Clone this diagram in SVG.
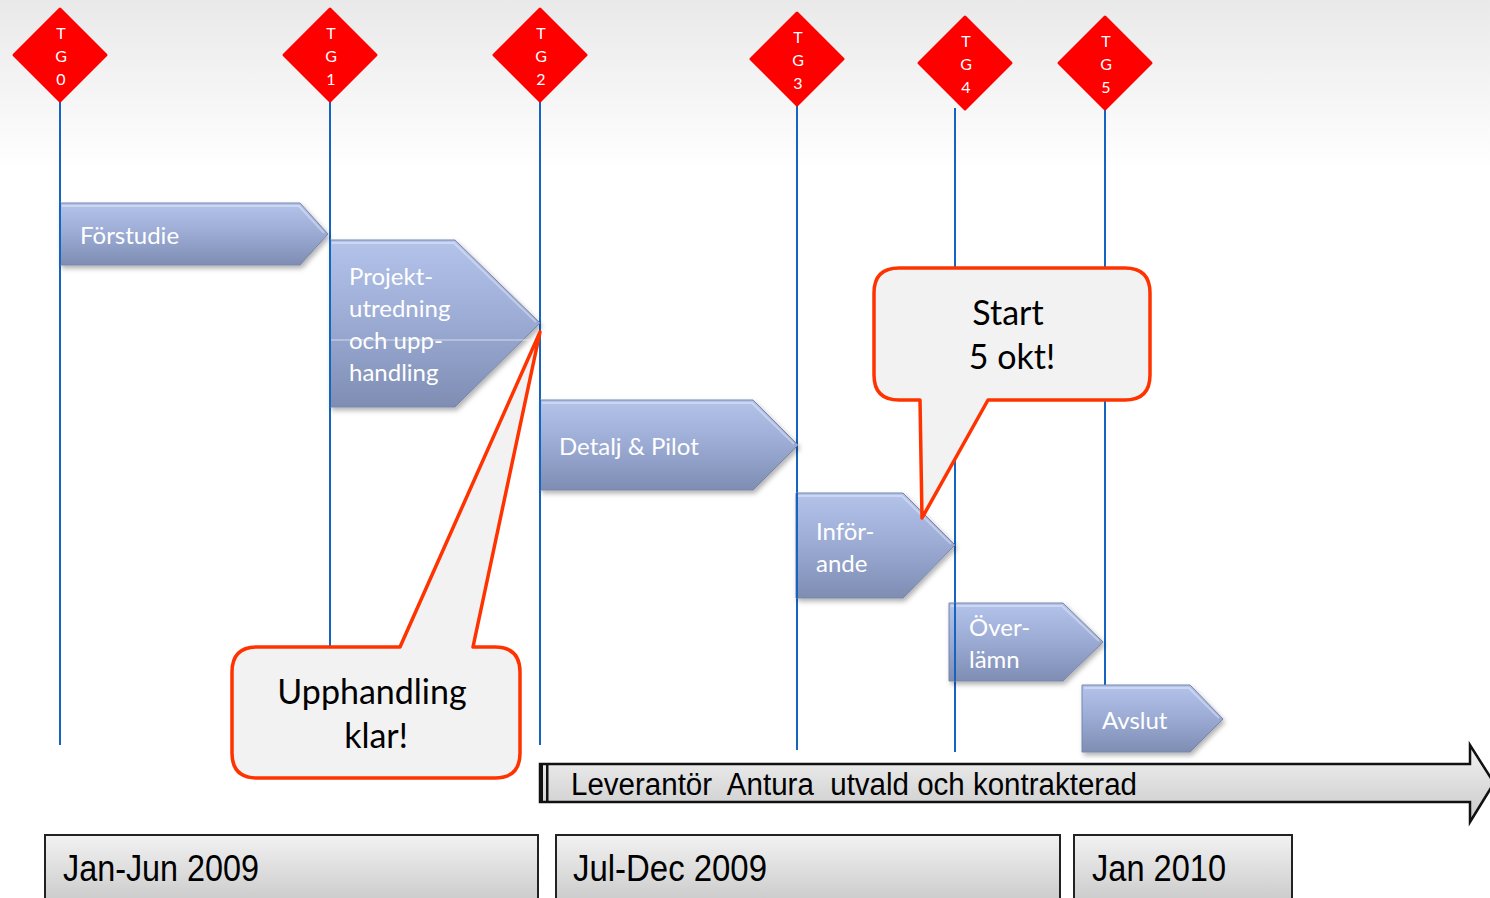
<svg xmlns="http://www.w3.org/2000/svg" width="1490" height="898" viewBox="0 0 1490 898">
<defs>
<linearGradient id="bg" x1="0" y1="0" x2="0" y2="1">
<stop offset="0" stop-color="#e9e9e9"/>
<stop offset="1" stop-color="#ffffff"/>
</linearGradient>
<linearGradient id="arr" x1="0" y1="0" x2="0" y2="1">
<stop offset="0" stop-color="#b3c3ea"/>
<stop offset="0.45" stop-color="#9dadd6"/>
<stop offset="1" stop-color="#7f8db3"/>
</linearGradient>
<linearGradient id="gray" x1="0" y1="0" x2="0" y2="1">
<stop offset="0" stop-color="#f2f2f2"/>
<stop offset="1" stop-color="#c9c9c9"/>
</linearGradient>
<filter id="sh" x="-10%" y="-10%" width="130%" height="130%">
<feDropShadow dx="2" dy="3" stdDeviation="2.5" flood-color="#000" flood-opacity="0.3"/>
</filter>
</defs>
<style>
.dia{fill:#ff0000;stroke:#ff0000;stroke-width:3;stroke-linejoin:round}
.dt{font-family:Lato,"Open Sans",sans-serif;font-size:16px;fill:#ffffff;text-anchor:middle}
.vl{stroke:#1565c0;stroke-width:2}
.arrow{fill:url(#arr);stroke:#7886ad;stroke-width:1;filter:url(#sh)}
.hl{fill:none;stroke:#ffffff;stroke-opacity:0.35;stroke-width:2}
.at{font-family:Lato,"Open Sans",sans-serif;font-size:24px;fill:#ffffff}
.co{fill:#f2f2f2;stroke:#ff3300;stroke-width:3.5;stroke-linejoin:round}
.ct{font-family:Lato,"Open Sans",sans-serif;font-size:34px;fill:#000000;text-anchor:middle}
.box{fill:url(#gray);stroke:#222222;stroke-width:2}
.bt{font-family:"Liberation Sans",Arial,sans-serif;fill:#000000;white-space:pre}
</style>
<rect x="0" y="0" width="1490" height="898" fill="#ffffff"/>
<rect x="0" y="0" width="1490" height="170" fill="url(#bg)"/>

<g id="connectors">
<line class="vl" x1="60" y1="100" x2="60" y2="745"/>
<line class="vl" x1="330" y1="100" x2="330" y2="647"/>
<line class="vl" x1="540" y1="100" x2="540" y2="745"/>
<line class="vl" x1="797" y1="104" x2="797" y2="750"/>
<line class="vl" x1="955" y1="108" x2="955" y2="752"/>
<line class="vl" x1="1105" y1="108" x2="1105" y2="686"/>
</g>

<g id="tg0"><polygon class="dia" points="60,9 106,55 60,101 14,55"/><text class="dt" x="61" y="39">T</text><text class="dt" x="61" y="62">G</text><text class="dt" x="61" y="85">0</text></g>
<g id="tg1"><polygon class="dia" points="330,9 376,55 330,101 284,55"/><text class="dt" x="331" y="39">T</text><text class="dt" x="331" y="62">G</text><text class="dt" x="331" y="85">1</text></g>
<g id="tg2"><polygon class="dia" points="540,9 586,55 540,101 494,55"/><text class="dt" x="541" y="39">T</text><text class="dt" x="541" y="62">G</text><text class="dt" x="541" y="85">2</text></g>
<g id="tg3"><polygon class="dia" points="797,13 843,59 797,105 751,59"/><text class="dt" x="798" y="43">T</text><text class="dt" x="798" y="66">G</text><text class="dt" x="798" y="89">3</text></g>
<g id="tg4"><polygon class="dia" points="965,17 1011,63 965,109 919,63"/><text class="dt" x="966" y="47">T</text><text class="dt" x="966" y="70">G</text><text class="dt" x="966" y="93">4</text></g>
<g id="tg5"><polygon class="dia" points="1105,17 1151,63 1105,109 1059,63"/><text class="dt" x="1106" y="47">T</text><text class="dt" x="1106" y="70">G</text><text class="dt" x="1106" y="93">5</text></g>

<g id="forstudie"><path class="arrow" d="M60,203 H300 L328,234 L300,265 H60 Z"/><path class="hl" d="M62,206 H299 L324,233"/><text class="at" x="80" y="244">Förstudie</text></g>
<g id="projekt"><path class="arrow" d="M330,240 H455 L540,323 L455,407 H330 Z"/><path class="hl" d="M332,243 H454 L536,322"/><line x1="326" y1="340" x2="530" y2="340" stroke="#ffffff" stroke-opacity="0.6" stroke-width="1"/><text class="at" x="349" y="285">Projekt-</text><text class="at" x="349" y="317">utredning</text><text class="at" x="349" y="349">och upp-</text><text class="at" x="349" y="381">handling</text></g>
<g id="detalj"><path class="arrow" d="M540,400 H753 L798,445 L753,490 H540 Z"/><path class="hl" d="M542,403 H752 L794,444"/><text class="at" x="559" y="455">Detalj &amp; Pilot</text></g>
<g id="inforande"><path class="arrow" d="M796,493 H903 L955,545 L903,598 H796 Z"/><path class="hl" d="M798,496 H902 L951,544"/><text class="at" x="816" y="540">Inför-</text><text class="at" x="816" y="572">ande</text></g>
<g id="overlamn"><path class="arrow" d="M949,603 H1063 L1103,642 L1063,681 H949 Z"/><path class="hl" d="M951,606 H1062 L1099,641"/><text class="at" x="969" y="636">Över-</text><text class="at" x="969" y="668">lämn</text></g>
<g id="avslut"><path class="arrow" d="M1082,685 H1190 L1223,719 L1190,752 H1082 Z"/><path class="hl" d="M1084,688 H1189 L1219,718"/><text class="at" x="1102" y="729">Avslut</text></g>

<g id="connectors-lines-over">
<line class="vl" x1="60" y1="203" x2="60" y2="265"/>
<line class="vl" x1="330" y1="240" x2="330" y2="407"/>
<line class="vl" x1="540" y1="400" x2="540" y2="490"/>
<line class="vl" x1="797" y1="493" x2="797" y2="598"/>
<line class="vl" x1="955" y1="603" x2="955" y2="681"/>
</g>

<g id="callout-upphandling"><path class="co" d="M257,647 H400 L540,332 L473,647 H495 Q520,647 520,672 V753 Q520,778 495,778 H257 Q232,778 232,753 V672 Q232,647 257,647 Z"/><text class="ct" x="372" y="704">Upphandling</text><text class="ct" x="376" y="748">klar!</text></g>
<g id="callout-start"><path class="co" d="M899,268 H1125 Q1150,268 1150,293 V375 Q1150,400 1125,400 H988 L922,518 L920,400 H899 Q874,400 874,375 V293 Q874,268 899,268 Z"/><text class="ct" x="1008" y="325">Start</text><text class="ct" x="1012" y="369">5 okt!</text></g>

<g id="leverantor"><path d="M540,764 H1470 V745 L1494,783 L1470,822 V802 H540 Z" fill="url(#gray)" stroke="#111111" stroke-width="2.5" stroke-linejoin="miter"/><rect x="539" y="764" width="4" height="38" fill="#111111"/><rect x="546" y="764" width="2.5" height="38" fill="#111111"/><text class="bt" x="571" y="795" font-size="31" textLength="566" lengthAdjust="spacingAndGlyphs" xml:space="preserve">Leverantör  Antura  utvald och kontrakterad</text></g>

<g id="jan-jun"><rect class="box" x="45" y="835" width="493" height="70"/><text class="bt" x="63" y="881" font-size="36" textLength="196" lengthAdjust="spacingAndGlyphs">Jan-Jun 2009</text></g>
<g id="jul-dec"><rect class="box" x="556" y="835" width="504" height="70"/><text class="bt" x="573" y="881" font-size="36" textLength="194" lengthAdjust="spacingAndGlyphs">Jul-Dec 2009</text></g>
<g id="jan2010"><rect class="box" x="1074" y="835" width="218" height="70"/><text class="bt" x="1092" y="881" font-size="36" textLength="134" lengthAdjust="spacingAndGlyphs">Jan 2010</text></g>
</svg>
